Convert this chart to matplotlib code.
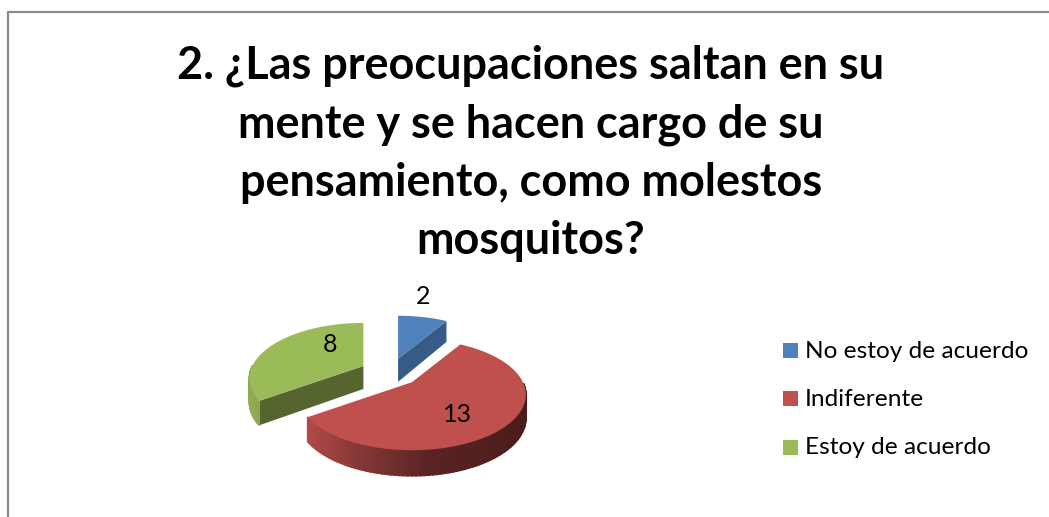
import numpy as np
import matplotlib
matplotlib.use("Agg")
import matplotlib.pyplot as plt
from matplotlib.patches import Polygon, Rectangle

categories = ["No estoy de acuerdo", "Indiferente", "Estoy de acuerdo"]
values = [2, 13, 8]
title_lines = [
    "2. ¿Las preocupaciones saltan en su",
    "mente y se hacen cargo de su",
    "pensamiento, como molestos",
    "mosquitos?",
]

top_colors = ["#4f81bd", "#c0504d", "#9bbb59"]
cut_colors = ["#375a86", "#7d3331", "#55652f"]
wall_stops = [
    [(0.0, "#375a86"), (1.0, "#375a86")],
    [(0.0, "#4a1c1b"), (0.45, "#5a2423"), (0.8, "#8a3a38"), (1.0, "#b04a48")],
    [(0.0, "#55652f"), (0.6, "#7a9443"), (1.0, "#90ad50")],
]
label_pos = [(423, 297), (457, 414), (330, 345)]
legend_y = [351, 399, 448]

# pie geometry in pixels
cx, cy = 390, 372.5
rx, ry = 111, 52.7
persp = 0.225
explode = 0.27


def project(theta):
    s = 1 / (1 + persp * np.cos(theta))
    return rx * np.sin(theta) * s, -ry * np.cos(theta) * s


def depth(theta):
    return 23 - 2.5 * np.cos(theta)


def blend(stops, t):
    xs = [p[0] for p in stops]
    rgb = np.array([matplotlib.colors.to_rgb(p[1]) for p in stops])
    return [np.interp(t, xs, rgb[:, i]) for i in range(3)]


fig = plt.figure(figsize=(10.49, 5.17), dpi=100)
ax = fig.add_axes([0, 0, 1, 1])
ax.set_xlim(0, 1049)
ax.set_ylim(517, 0)
ax.axis("off")

# frame of the chart, cut by the image on the right and at the bottom
ax.plot([7.5, 7.5, 1049], [517, 11.5, 11.5], color="#8c8c8c", lw=1.6)

for i, line in enumerate(title_lines):
    ax.text(531, 66 + i * 58.5, line, ha="center", va="center",
            family="Lato", weight="bold", fontsize=32.4, color="black")

fractions = np.array(values) / sum(values)
edges = np.concatenate([[0], np.cumsum(fractions)]) * 2 * np.pi

for k in range(len(values)):
    a0, a1 = edges[k], edges[k + 1]
    mid = (a0 + a1) / 2
    ox = cx + explode * rx * np.sin(mid)
    oy = cy - explode * ry * np.cos(mid)
    th = np.linspace(a0, a1, 120)
    px, py = project(th)
    px, py = ox + px, oy + py

    # cut faces, only seen on the blue and green slices
    if k == 0:
        ax.add_patch(Polygon([(ox, oy), (px[-1], py[-1]), (px[-1], py[-1] + depth(th[-1])),
                              (ox, oy + 23)], color=cut_colors[k], lw=0))
    if k == 2:
        ax.add_patch(Polygon([(ox, oy), (px[0], py[0]), (px[0], py[0] + depth(th[0])),
                              (ox, oy + 23)], color=cut_colors[k], lw=0))

    # outer wall, front half only
    for j in range(len(th) - 1):
        if np.cos(th[j]) > 0:
            continue
        span = (px[j] + px[j + 1]) / 2
        t = (px.max() - span) / max(px.max() - px.min(), 1)
        ax.add_patch(Polygon([(px[j], py[j]), (px[j + 1], py[j + 1]),
                              (px[j + 1], py[j + 1] + depth(th[j + 1])),
                              (px[j], py[j] + depth(th[j]))],
                             facecolor=blend(wall_stops[k], t),
                             edgecolor=blend(wall_stops[k], t), lw=1.2))

    ax.add_patch(Polygon(np.vstack([[ox, oy], np.column_stack([px, py])]),
                         facecolor=top_colors[k], edgecolor="none"))

    ax.text(label_pos[k][0], label_pos[k][1], str(values[k]), ha="center", va="center",
            family="Lato", fontsize=18, color="black")

for name, color, y in zip(categories, top_colors, legend_y):
    ax.add_patch(Rectangle((783, y - 8), 15, 15, color=color, lw=0))
    ax.text(805, y, name, ha="left", va="center", family="Lato", fontsize=17.6, color="black")

fig.savefig("out.png", dpi=100, facecolor="white")
